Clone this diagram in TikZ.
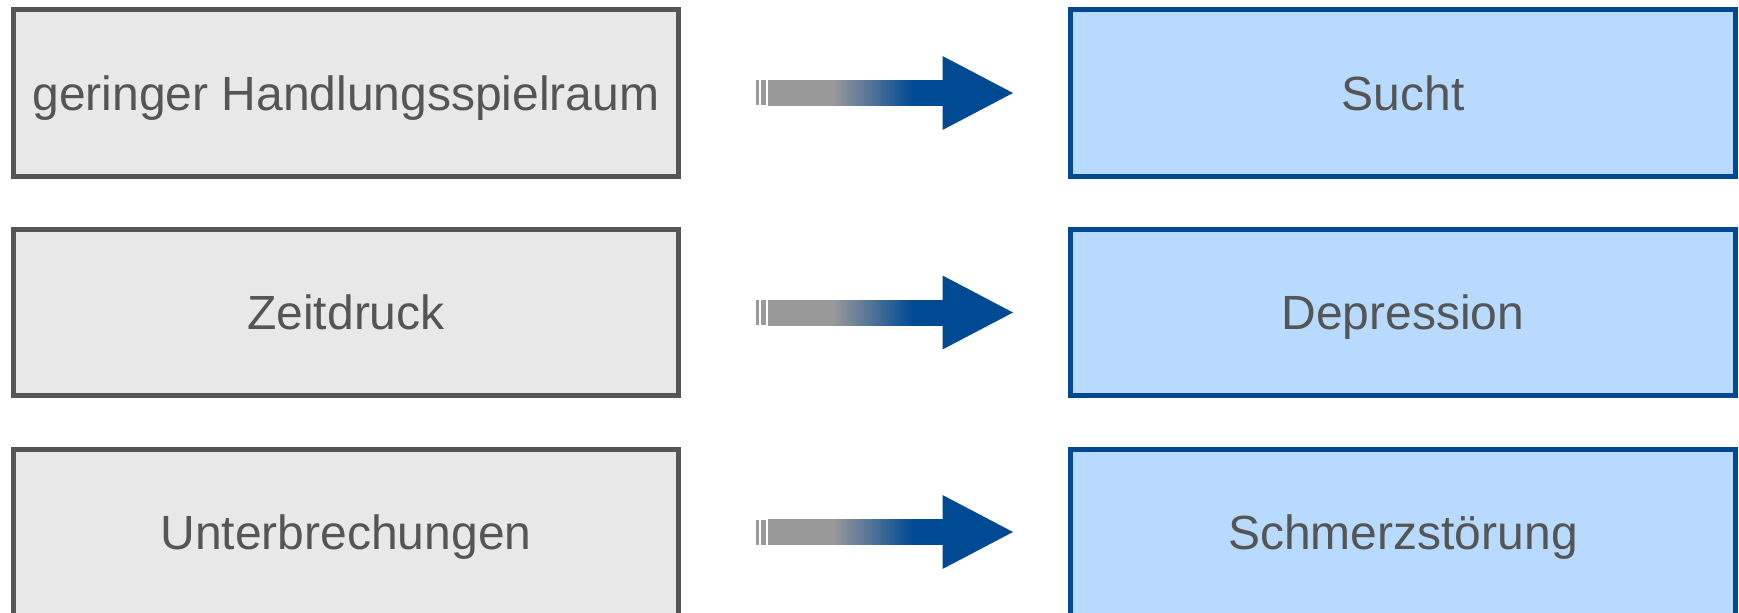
\documentclass[tikz,border=0pt]{standalone}
\usepackage{fontspec}
\setmainfont{Liberation Sans}
\usetikzlibrary{calc}

\definecolor{boxgray}{HTML}{E8E8E8}
\definecolor{edgegray}{HTML}{555555}
\definecolor{textgray}{HTML}{555555}
\definecolor{boxblue}{HTML}{B8DAFF}
\definecolor{edgeblue}{HTML}{00488F}
\definecolor{arrowgray}{HTML}{999999}
\definecolor{arrowblue}{HTML}{004A93}

% grey tail fading into the blue head
\pgfdeclarehorizontalshading{arrowshade}{100bp}{%
  color(0bp)=(arrowgray); color(43.5bp)=(arrowgray);
  color(66.5bp)=(arrowblue); color(100bp)=(arrowblue)}

\tikzset{
  cause/.style={draw=edgegray, fill=boxgray, line width=5bp,
    minimum width=665bp, minimum height=166bp, inner sep=0pt,
    text height=34.4bp, text depth=0pt,
    text=textgray, font=\fontsize{48bp}{57bp}\selectfont},
  effect/.style={cause, draw=edgeblue, fill=boxblue},
}

% fat arrow from coordinate #1 (tail) to coordinate #2 (tip)
\newcommand{\fatarrow}[2]{%
  \fill[arrowgray] ($(#1)+(0,-12.5)$) rectangle ($(#1)+(3,12.5)$);
  \fill[arrowgray] ($(#1)+(5,-12.5)$) rectangle ($(#1)+(10.3,12.5)$);
  \shade[shading=arrowshade] ($(#1)+(12,-12.5)$) rectangle ($(#2)+(-70,12.5)$);
  \fill[arrowblue] ($(#2)+(-70.5,-37)$) -- (#2) -- ($(#2)+(-70.5,37)$) -- cycle;
}

\begin{document}
\begin{tikzpicture}[x=1bp, y=-1bp]
  \useasboundingbox (0,0) rectangle (1739,613);

  \node[cause]  (c1) at (346,93)    {geringer Handlungsspielraum};
  \node[cause]  (c2) at (346,312.5) {Zeitdruck};
  \node[cause]  (c3) at (346,532)   {Unterbrechungen};

  \node[effect] (e1) at (1403,93)    {Sucht};
  \node[effect] (e2) at (1403,312.5) {Depression};
  \node[effect] (e3) at (1403,532)   {Schmerzstörung};

  \foreach \i in {1,2,3} {
    \coordinate (t\i) at ($(c\i.east)+(75,0)$);
    \coordinate (h\i) at ($(e\i.west)+(-55,0)$);
    \fatarrow{t\i}{h\i}
  }
\end{tikzpicture}
\end{document}
